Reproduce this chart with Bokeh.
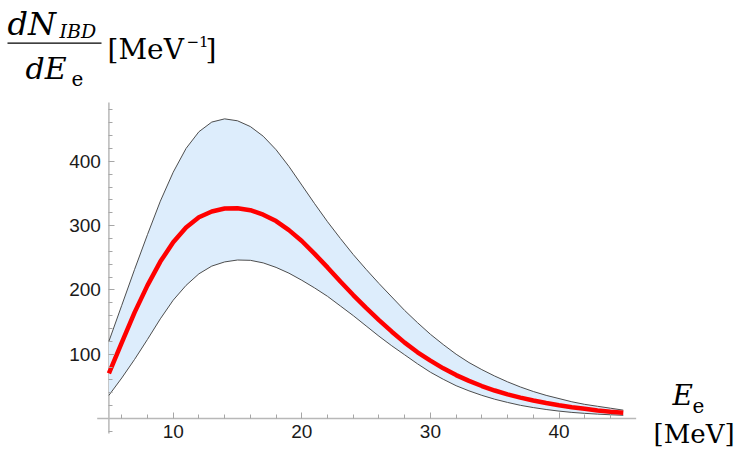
from bokeh.plotting import figure
from bokeh.models import FixedTicker, Label, Range1d
from bokeh.embed import file_html
from bokeh.resources import INLINE

# ---------------- data ----------------
energy = list(range(5, 46))
central = [70, 118, 165, 207, 244, 274, 297, 313, 322, 326.5, 327, 324, 317, 307, 293,
           276, 256, 235, 213, 192, 172, 153, 135, 118, 103, 90, 78, 67.5, 58.5, 50.5,
           43.5, 37.5, 32.5, 28, 24, 20.5, 17.5, 15, 12.5, 10.5, 9]
upper = [120, 176, 232, 286, 338, 383, 420, 446, 461, 466, 463, 454, 439, 418, 392,
         363, 334, 306, 280, 255, 232, 210, 189, 168, 149, 131, 115, 100, 87, 76,
         66, 57, 49, 42, 36, 31, 26, 22, 19, 16, 13]
lower = [36, 63, 92, 123, 155, 184, 207, 225, 237, 243.5, 246.5, 246, 242, 235, 226,
         215, 203, 190, 175, 160, 144, 128, 113, 99, 85, 72, 61, 51, 43, 36,
         30, 25, 20.5, 17, 14, 11.5, 9.5, 8, 6.8, 5.8, 5]

x_major = [10, 20, 30, 40]
x_minor = [6, 8, 12, 14, 16, 18, 22, 24, 26, 28, 32, 34, 36, 38, 42, 44]
y_major = [100, 200, 300, 400]
y_minor = [-20, 20, 40, 60, 80, 120, 140, 160, 180, 220, 240, 260, 280,
           320, 340, 360, 380, 420, 440, 460, 480]

# axes extents (data units) as drawn in the reference
x_axis_span = [4.09, 46.0]
y_axis_span = [-23.3, 491.4]

# ---------------- layout ----------------
W, H = 747, 453
SX, SY = 12.86, 0.643          # px per data unit
X0PIX, Y0PIX = 108.4, 418.0    # pixel of x=5 and y=0
XL = 5 - X0PIX / SX
XR = XL + W / SX
YT = Y0PIX / SY
YB = YT - H / SY

def dx(px):
    return XL + px / SX

def dy(py):
    return YT - py / SY

p = figure(width=W, height=H, x_range=Range1d(XL, XR), y_range=Range1d(YB, YT),
           output_backend="svg", toolbar_location=None,
           min_border_left=0, min_border_right=0, min_border_top=0, min_border_bottom=0)
p.outline_line_color = None
p.xgrid.visible = False
p.ygrid.visible = False
p.background_fill_color = "white"
p.border_fill_color = "white"

for ax in (p.xaxis[0], p.yaxis[0]):
    ax.axis_line_color = None
    ax.major_tick_line_color = "#a6a6a6"
    ax.minor_tick_line_color = "#a6a6a6"
    ax.major_tick_line_width = 1
    ax.minor_tick_line_width = 1
    ax.major_tick_in = 6
    ax.major_tick_out = 0
    ax.minor_tick_in = 4
    ax.minor_tick_out = 0
    ax.major_label_text_font = "Liberation Sans"
    ax.major_label_text_font_size = "19px"
    ax.major_label_text_color = "#1a1a1a"

p.xaxis[0].fixed_location = 0
p.yaxis[0].fixed_location = 5
p.xaxis[0].ticker = FixedTicker(ticks=x_major, minor_ticks=x_minor)
p.yaxis[0].ticker = FixedTicker(ticks=y_major, minor_ticks=y_minor)
p.xaxis[0].major_label_standoff = 6
p.yaxis[0].major_label_standoff = 8

# axis lines (limited extents, like the reference)
p.segment(x0=[x_axis_span[0], 5], y0=[0, y_axis_span[0]],
          x1=[x_axis_span[1], 5], y1=[0, y_axis_span[1]],
          line_color="#b8b8b8", line_width=1.5)

# ---------------- band and curve ----------------
p.varea(x=energy, y1=lower, y2=upper, fill_color="#ddedfc", fill_alpha=1.0)
p.line(energy, upper, line_color="#4d4d4d", line_width=1)
p.line(energy, lower, line_color="#4d4d4d", line_width=1)
p.line(energy, central, line_color="#ff0000", line_width=4.5)

# ---------------- axis titles ----------------
SERIF = "DejaVu Serif"

def add_text(txt, px, baseline, size, italic=False):
    # rendered baseline sits ~0.37 em below the anchor; compensate
    p.add_layout(Label(x=dx(px), y=dy(baseline - 0.37 * size), text=txt, text_font=SERIF,
                       text_font_size=f"{size}px",
                       text_font_style="italic" if italic else "normal",
                       text_color="black", text_baseline="alphabetic", text_align="left"))

add_text("dN", 7, 35, 32, True)
add_text("IBD", 59, 38, 19, True)
add_text("dE", 25, 79, 30, True)
add_text("e", 71, 85.5, 20)
add_text("[MeV", 107, 59.5, 28)
add_text("\u22121", 186, 47, 15)
add_text("]", 205, 59.5, 28)
# fraction bar
p.segment(x0=[dx(7)], y0=[dy(42.7)], x1=[dx(101)], y1=[dy(42.7)],
          line_color="black", line_width=1.3)

add_text("E", 672, 405, 28, True)
add_text("e", 692, 412, 20)
add_text("[MeV]", 653, 443, 26)

open("out.html", "w").write(file_html(p, INLINE))
